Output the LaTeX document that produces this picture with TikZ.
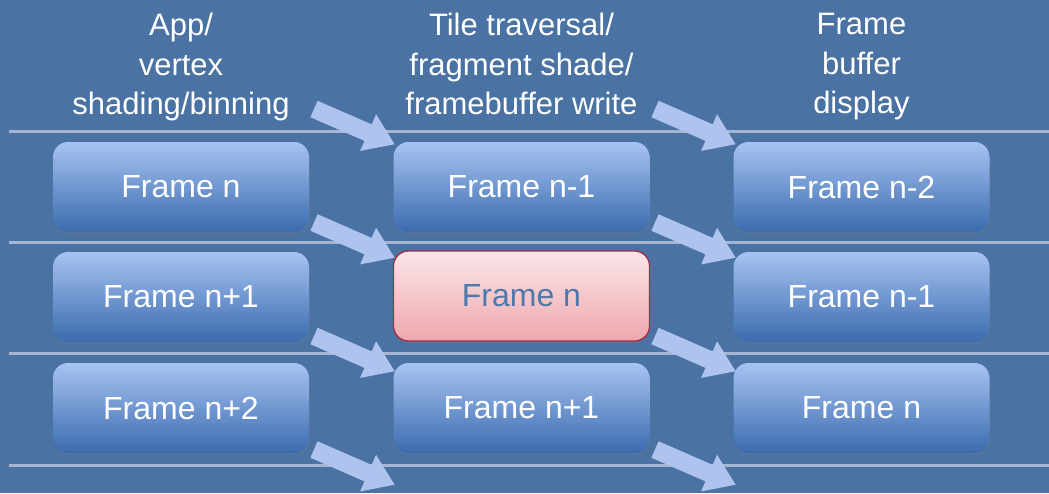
\documentclass[tikz,border=0pt]{standalone}
\usepackage{fontspec}
\setmainfont{Liberation Sans}
\usetikzlibrary{shadows}
\definecolor{bgblue}{HTML}{4A72A2}
\definecolor{sepline}{HTML}{A5B6D3}
\definecolor{boxtop}{HTML}{A7C3F2}
\definecolor{boxbot}{HTML}{3A6BAE}
\definecolor{pinktop}{HTML}{FAE6E9}
\definecolor{pinkbot}{HTML}{EEA8AC}
\definecolor{pinkline}{HTML}{A32C48}
\definecolor{pinktext}{HTML}{4D79AD}
\definecolor{arrowcol}{HTML}{AEC3EE}
\tikzset{
  framebox/.style={rounded corners=15pt, minimum width=256pt, minimum height=90pt,
    top color=boxtop, bottom color=boxbot, text=white, inner sep=0pt,
    font=\fontsize{32}{37}\selectfont,
    drop shadow={opacity=0.25, shadow xshift=1pt, shadow yshift=-2pt}},
  hotbox/.style={framebox, top color=pinktop, bottom color=pinkbot, draw=pinkline,
    line width=1.3pt, text=pinktext},
  header/.style={align=center, inner sep=0pt, anchor=north, text=white,
    font=\fontsize{31}{39.5}\selectfont},
  sep/.style={draw=sepline, line width=3pt},
  pics/fatarrow/.style={code={
    \fill[arrowcol] (0,-9) -- (59,-9) -- (59,-20) -- (88,0) -- (59,20) -- (59,9) -- (0,9) -- cycle;
  }}
}
\begin{document}
\begin{tikzpicture}[x=1pt,y=-1pt]
\fill[bgblue] (0,0) rectangle (1049,493);
\useasboundingbox (0,0) rectangle (1049,493);
% separator lines
\foreach \yy in {131,242,353,465} {
  \path[sep] (9,\yy) -- (1049,\yy);
}
% headers
\node[header] (h1) at (181,13) {App/\\vertex\\shading/binning};
\node[header] (h2) at (521.5,13) {Tile traversal/\\fragment shade/\\framebuffer write};
\node[header] (h3) at (861.5,13) {Frame\\buffer\\display};
% boxes
\node[framebox] (a1) at (181,187) {Frame n};
\node[framebox] (a2) at (181,297) {Frame n+1};
\node[framebox] (a3) at (181,408) {Frame n+2};
\node[framebox] (b1) at (521.5,187) {Frame n-1};
\node[hotbox]   (b2) at (521.5,296) {Frame n};
\node[framebox] (b3) at (521.5,408) {Frame n+1};
\node[framebox] (c1) at (861.5,187) {Frame n-2};
\node[framebox] (c2) at (861.5,297) {Frame n-1};
\node[framebox] (c3) at (861.5,408) {Frame n};
% arrows
\foreach \k in {0,1,2,3} {
  \pgfmathsetmacro{\yy}{109+113.5*\k}
  \pic[rotate=-23.6] at (314,\yy) {fatarrow};
  \pic[rotate=-23.6] at (655,\yy) {fatarrow};
}
\end{tikzpicture}
\end{document}
